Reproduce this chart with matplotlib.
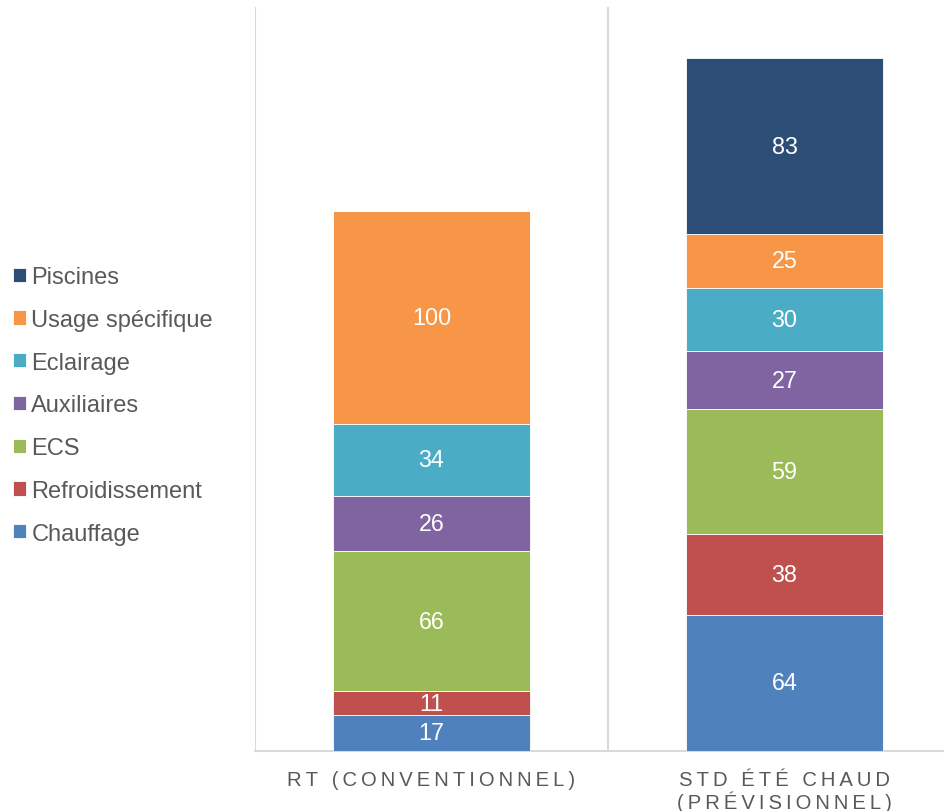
import matplotlib.pyplot as plt
import numpy as np

plt.rcParams["font.family"] = ["Liberation Sans", "DejaVu Sans"]

# 两个情景
categories = ["RT (CONVENTIONNEL)", "STD ÉTÉ CHAUD\n(PRÉVISIONNEL)"]

# 各用途（自下而上）
usages = ["Chauffage", "Refroidissement", "ECS", "Auxiliaires",
          "Eclairage", "Usage spécifique", "Piscines"]
chauffage = [17, 64]
refroidissement = [11, 38]
ecs = [66, 59]
auxiliaires = [26, 27]
eclairage = [34, 30]
usage_specifique = [100, 25]
piscines = [0, 83]

series = [chauffage, refroidissement, ecs, auxiliaires,
          eclairage, usage_specifique, piscines]
colors = ["#4F81BD", "#C0504D", "#9BBB59", "#8064A2",
          "#4BACC6", "#F79646", "#2C4D75"]


def spaced(label):
    # 字间距：字符之间插入细空格
    return "\n".join("\u2009".join(line) for line in label.split("\n"))


fig = plt.figure(figsize=(9.45, 8.12), dpi=100)
ax = fig.add_axes([0.2698, 0.0739, 0.7471, 0.9163])

x = np.arange(len(categories))
bottom = np.zeros(len(categories))
handles = []
for name, vals, col in zip(usages, series, colors):
    vals = np.array(vals, dtype=float)
    bars = ax.bar(x, vals, 0.56, bottom=bottom, color=col,
                  edgecolor="white", linewidth=0.6, label=name, zorder=3)
    handles.append(bars)
    for xi, v, b in zip(x, vals, bottom):
        if v > 0:
            ax.text(xi, b + v / 2, f"{v:g}", ha="center", va="center",
                    color="white", fontsize=16.8, zorder=4)
    bottom += vals

ax.set_xlim(-0.5, 1.5)
ax.set_ylim(0, 350)
ax.set_yticks([])
ax.set_xticks(x)
ax.set_xticklabels([spaced(c) for c in categories], fontsize=14.6,
                   color="#595959", linespacing=1.05)
ax.tick_params(axis="x", length=0, pad=14)
ax.set_xticks([-0.5, 0.5, 1.5], minor=True)
ax.tick_params(axis="x", which="minor", length=0)
ax.grid(True, axis="x", which="minor", color="#d9d9d9", linewidth=1.5, zorder=0)

for s in ["top", "right", "left"]:
    ax.spines[s].set_visible(False)
ax.spines["bottom"].set_color("#d9d9d9")
ax.spines["bottom"].set_linewidth(1.5)

leg = fig.legend(handles[::-1], usages[::-1], loc="center left",
                 bbox_to_anchor=(0.004, 0.4995), frameon=False, fontsize=17,
                 handlelength=0.55, handleheight=0.55, handletextpad=0.22,
                 labelspacing=0.88, borderaxespad=0, borderpad=0.4,
                 labelcolor="#595959")

fig.savefig("out.png", dpi=100)
